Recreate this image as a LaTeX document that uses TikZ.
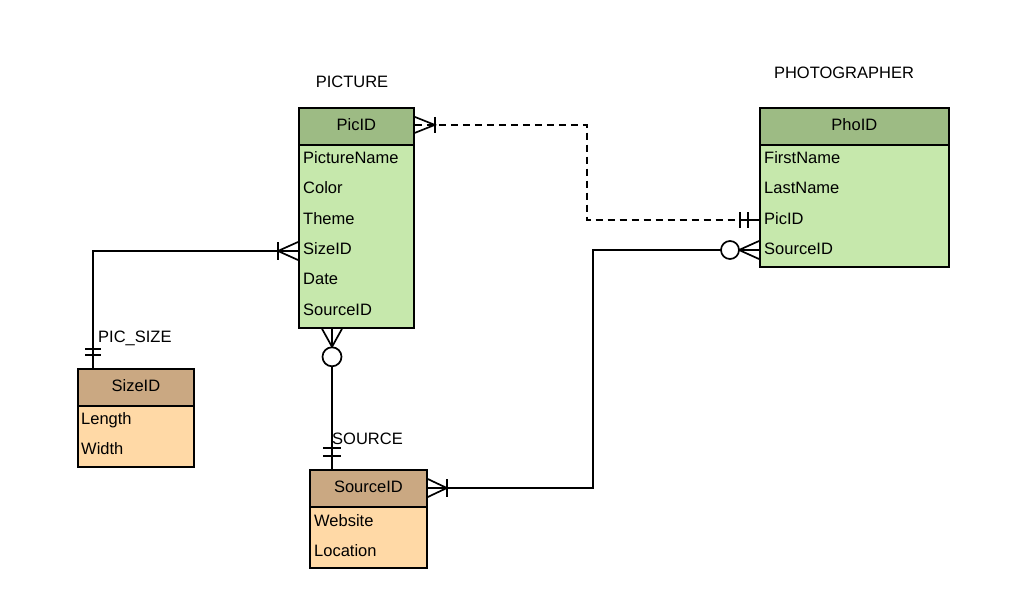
\documentclass[tikz,border=0pt]{standalone}
\usepackage{fontspec}
\setmainfont{Liberation Sans}
\usetikzlibrary{calc}
\definecolor{ghdr}{RGB}{157,187,132}
\definecolor{gbody}{RGB}{198,232,172}
\definecolor{thdr}{RGB}{202,168,130}
\definecolor{tbody}{RGB}{255,217,166}
\tikzset{
  box/.style={draw=black, line width=1.8pt, inner sep=0pt, anchor=north west, font=\fontsize{16.5}{18}\selectfont, text height=11.8pt, text depth=3pt},
  hdrG/.style={box, fill=ghdr},
  bodyG/.style={box, fill=gbody},
  hdrT/.style={box, fill=thdr},
  bodyT/.style={box, fill=tbody},
  row/.style={inner sep=0pt, anchor=base west, font=\fontsize{16.5}{18}\selectfont},
  lbl/.style={inner sep=0pt, font=\fontsize{16.5}{18}\selectfont},
  conn/.style={draw=black, line width=1.7pt},
  dsh/.style={conn, dash pattern=on 7pt off 5pt},
  ring/.style={conn, fill=white}
}
\begin{document}
\begin{tikzpicture}[x=1pt,y=-1pt]
\useasboundingbox (0,0) rectangle (1024,615);
\fill[white] (0,0) rectangle (1024,615);

% PICTURE table
\node[bodyG, minimum width=115pt, minimum height=183pt] (picbody) at (298,144) {};
\node[hdrG, minimum width=115pt, minimum height=37pt] (pichdr) at (298,107) {PicID};
\node[row] (picname) at (303,163) {PictureName};
\node[row] (piccolor) at (303,193) {Color};
\node[row] (pictheme) at (303,224) {Theme};
\node[row] (picsize) at (303,254) {SizeID};
\node[row] (picdate) at (303,284) {Date};
\node[row] (picsrc) at (303,315) {SourceID};
\node[lbl] (piclbl) at (352,82) {PICTURE};

% PHOTOGRAPHER table
\node[bodyG, minimum width=189pt, minimum height=122pt] (phobody) at (759,144) {};
\node[hdrG, minimum width=189pt, minimum height=37pt] (phohdr) at (759,107) {PhoID};
\node[row] (phofirst) at (764,163) {FirstName};
\node[row] (pholast) at (764,193) {LastName};
\node[row] (phopic) at (764,224) {PicID};
\node[row] (phosrc) at (764,254) {SourceID};
\node[lbl] (pholbl) at (844,73) {PHOTOGRAPHER};

% SIZE table
\node[bodyT, minimum width=116pt, minimum height=61pt] (sizebody) at (77,405) {};
\node[hdrT, minimum width=116pt, minimum height=37pt] (sizehdr) at (77,368) {SizeID};
\node[row] (sizelen) at (81,424) {Length};
\node[row] (sizewid) at (81,454) {Width};
\node[lbl, anchor=west] (sizelbl) at (98,338) {PIC\_SIZE};

% SOURCE table
\node[bodyT, minimum width=117pt, minimum height=61pt] (srcbody) at (309,506) {};
\node[hdrT, minimum width=117pt, minimum height=37pt] (srchdr) at (309,469) {SourceID};
\node[row] (srcweb) at (314,526) {Website};
\node[row] (srcloc) at (314,556) {Location};
\node[lbl, anchor=west] (srclbl) at (332,439) {SOURCE};

% Connector 1: PICTURE.PicID -- PHOTOGRAPHER.PicID (dashed)
\coordinate (a0) at ($(pichdr.east)+(0,-1.5)$);
\coordinate (b2) at (587,220);
\coordinate (p1) at (phobody.west |- b2);
\draw[dsh] (a0) -| (b2) -- (p1);
\draw[conn] ($(a0)+(0,-8)$) -- ($(a0)+(20,0)$) -- ($(a0)+(0,8)$);
\draw[conn] ($(a0)+(20,-8)$) -- ($(a0)+(20,8)$);
\draw[conn] ($(p1)+(-19,-8)$) -- ($(p1)+(-19,8)$);
\draw[conn] ($(p1)+(-11,-8)$) -- ($(p1)+(-11,8)$);
\draw[conn] ($(p1)+(-11,0)$) -- (p1);

% Connector 2: PICTURE.SizeID -- SIZE
\coordinate (c1) at (93,251);
\coordinate (c0) at (picbody.west |- c1);
\coordinate (c2) at (sizehdr.north -| c1);
\draw[conn] (c0) -- (c1) -- (c2);
\draw[conn] ($(c0)+(0,-9)$) -- ($(c0)+(-20,0)$) -- ($(c0)+(0,9)$);
\draw[conn] ($(c0)+(-20,-9)$) -- ($(c0)+(-20,9)$);
\draw[conn] ($(c2)+(-8,-19)$) -- ($(c2)+(8,-19)$);
\draw[conn] ($(c2)+(-8,-13)$) -- ($(c2)+(8,-13)$);

% Connector 3: PICTURE -- SOURCE
\coordinate (e0) at (picbody.south -| 332,0);
\coordinate (e1) at (srchdr.north -| 332,0);
\draw[conn] ($(e0)+(-10,0)$) -- ($(e0)+(0,18)$) -- ($(e0)+(10,0)$);
\draw[conn] ($(e0)+(0,0)$) -- ($(e0)+(0,18)$);
\draw[conn] ($(e0)+(0,37)$) -- (e1);
\draw[ring] ($(e0)+(0,28)$) circle (9.5pt);
\draw[conn] ($(e1)+(-9,-21)$) -- ($(e1)+(9,-21)$);
\draw[conn] ($(e1)+(-9,-13)$) -- ($(e1)+(9,-13)$);

% Connector 4: PHOTOGRAPHER.SourceID -- SOURCE
\coordinate (d1) at (593,250);
\coordinate (d0) at (phobody.west |- d1);
\coordinate (d2) at (593,488);
\coordinate (d3) at (srchdr.east |- d2);
\draw[conn] ($(d0)+(-38,0)$) -- (d1) -- (d2) -- (d3);
\draw[conn] ($(d0)+(0,-9)$) -- ($(d0)+(-20,0)$) -- ($(d0)+(0,9)$);
\draw[conn] (d0) -- ($(d0)+(-20,0)$);
\draw[ring] ($(d0)+(-29,0)$) circle (9pt);
\draw[conn] ($(d3)+(0,-9)$) -- ($(d3)+(19,0)$) -- ($(d3)+(0,9)$);
\draw[conn] ($(d3)+(19,-9)$) -- ($(d3)+(19,9)$);
\end{tikzpicture}
\end{document}
